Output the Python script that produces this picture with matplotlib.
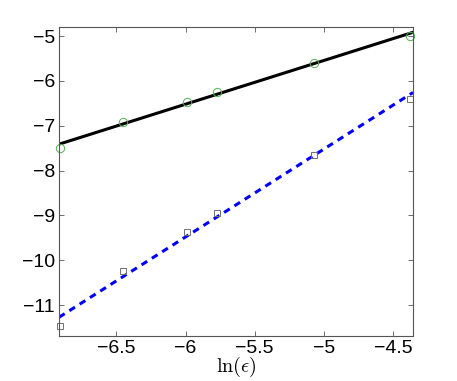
import matplotlib
matplotlib.use("Agg")
import matplotlib.pyplot as plt
import numpy as np

# données
ln_eps = [-6.91, -6.45, -5.99, -5.77, -5.07, -4.38]
err_a = [-7.50, -6.91, -6.48, -6.24, -5.59, -5.00]   # cercles verts
err_b = [-11.47, -10.25, -9.36, -8.94, -7.65, -6.41]  # carrés gris

plt.rcParams['font.family'] = ['Liberation Sans', 'DejaVu Sans']
plt.rcParams['mathtext.fontset'] = 'cm'

fig = plt.figure(figsize=(4.57, 3.81), dpi=100)
ax = fig.add_axes([59/457, 1-336/381, (413-59)/457, (336-26.7)/381])

xlim = (-6.915, -4.355)
xs = np.array(xlim)

pa = np.polyfit(ln_eps, err_a, 1)
pb = np.polyfit(ln_eps, err_b, 1)

ax.plot(xs, np.polyval(pa, xs), '-', c='k', lw=2.2)
ax.plot(xs, np.polyval(pb, xs), '--', c='#0000ff', lw=2.2, dashes=(2.2, 1.8))
ax.plot(ln_eps, err_a, 'o', mfc='none', mec='#55b055', ms=6, mew=0.7, clip_on=False)
ax.plot(ln_eps, err_b, 's', mfc='none', mec='#707070', ms=5, mew=0.7, clip_on=False)

ax.set_xlim(*xlim)
ax.set_ylim(-11.69, -4.79)
ax.set_xticks([-6.5, -6, -5.5, -5, -4.5])
ax.set_xticklabels(['\u22126.5', '\u22126', '\u22125.5', '\u22125', '\u22124.5'])
ax.set_yticks([-11, -10, -9, -8, -7, -6, -5])
ax.set_yticklabels(['\u221211', '\u221210', '\u22129', '\u22128', '\u22127', '\u22126', '\u22125'])
ax.tick_params(direction='in', top=True, right=True, length=3.5, width=0.6,
               color='#555555', labelsize=14, pad=3)
for s in ax.spines.values():
    s.set_color('#555555')
    s.set_linewidth(0.8)
ax.set_xlabel(r'$\ln(\epsilon)$', fontsize=14.5, labelpad=-1.5)

fig.savefig('out.png', dpi=100)
